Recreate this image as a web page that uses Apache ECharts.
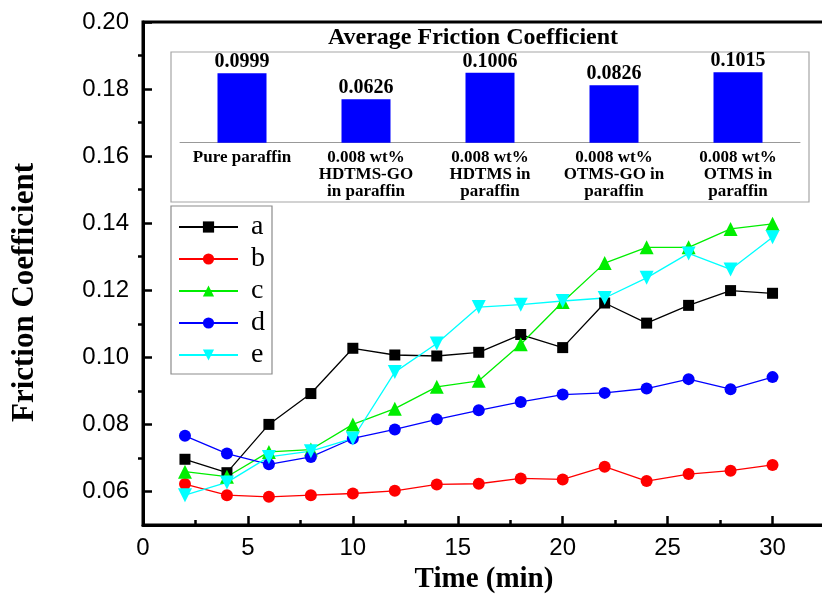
<!DOCTYPE html>
<html>
<head>
<meta charset="utf-8">
<title>Friction Coefficient</title>
<script src="https://cdn.jsdelivr.net/npm/echarts@6.0.0/dist/echarts.min.js"></script>
<style>
    html, body { margin: 0; padding: 0; background: #fff; }
    #chart { width: 822px; height: 598px; }
</style>
</head>
<body>
<div id="chart"></div>
<script>
    // 主图数据
    const times = [2, 4, 6, 8, 10, 12, 14, 16, 18, 20, 22, 24, 26, 28, 30];
    const seriesA = [0.0696, 0.0656, 0.0800, 0.0892, 0.1027, 0.1007, 0.1004, 0.1015, 0.1068, 0.1029, 0.1162, 0.1102, 0.1155, 0.1199, 0.1191];
    const seriesB = [0.0622, 0.0589, 0.0584, 0.0589, 0.0594, 0.0602, 0.0621, 0.0623, 0.0639, 0.0636, 0.0674, 0.0631, 0.0652, 0.0662, 0.0679];
    const seriesC = [0.0659, 0.0644, 0.0718, 0.0725, 0.0800, 0.0847, 0.0912, 0.0930, 0.1039, 0.1165, 0.1281, 0.1328, 0.1328, 0.1383, 0.1398];
    const seriesD = [0.0766, 0.0713, 0.0681, 0.0703, 0.0758, 0.0785, 0.0815, 0.0842, 0.0867, 0.0889, 0.0894, 0.0907, 0.0935, 0.0905, 0.0941];
    const seriesE = [0.0589, 0.0627, 0.0703, 0.0720, 0.0758, 0.0956, 0.1041, 0.1150, 0.1157, 0.1168, 0.1177, 0.1237, 0.1310, 0.1262, 0.1358];

    // 插图数据
    const avgLabels = [
        'Pure paraffin',
        '0.008 wt%\nHDTMS-GO\nin paraffin',
        '0.008 wt%\nHDTMS in\nparaffin',
        '0.008 wt%\nOTMS-GO in\nparaffin',
        '0.008 wt%\nOTMS in\nparaffin'
    ];
    const avgValues = [0.0999, 0.0626, 0.1006, 0.0826, 0.1015];

    const serif = '"Liberation Serif", "Times New Roman", serif';
    const sans = '"Liberation Sans", Arial, sans-serif';

    const pairs = (ys) => times.map((t, i) => [t, ys[i]]);

    const lineSeries = (name, ys, color, symbol, size, rotate) => ({
        name: name,
        type: 'line',
        xAxisIndex: 0,
        yAxisIndex: 0,
        data: pairs(ys),
        symbol: symbol,
        symbolSize: size,
        symbolRotate: rotate || 0,
        showAllSymbol: true,
        itemStyle: { color: color },
        lineStyle: { color: color, width: 1.3 },
        emphasis: { disabled: true }
    });

    const myChart = echarts.init(document.getElementById('chart'));

    const option = {
        animation: false,
        backgroundColor: '#fff',
        title: {
            text: 'Average Friction Coefficient',
            left: 328,
            top: 26,
            padding: 0,
            textStyle: { fontFamily: serif, fontWeight: 'bold', fontSize: 24, color: '#000' }
        },
        graphic: [{
            type: 'rect',
            z: 0,
            shape: { x: 171, y: 52, width: 638, height: 150 },
            style: { fill: '#fff', stroke: '#a6a6a6', lineWidth: 1.2 }
        }],
        legend: {
            orient: 'vertical',
            left: 171,
            top: 206,
            padding: [7, 7, 5, 7],
            itemWidth: 59,
            itemHeight: 14,
            itemGap: 4,
            borderColor: '#8c8c8c',
            borderWidth: 1.2,
            backgroundColor: '#fff',
            data: ['a', 'b', 'c', 'd', 'e'],
            textStyle: { fontFamily: serif, fontSize: 28, lineHeight: 28, color: '#000', padding: [0, 0, 0, 8] }
        },
        grid: [{
            left: 143,
            top: 22,
            width: 682,
            bottom: 73,
            outerBoundsMode: 'none',
            show: true,
            borderColor: '#000',
            borderWidth: 3,
            backgroundColor: 'transparent'
        }, {
            left: 180,
            top: 59.3,
            width: 620,
            height: 83.4,
            outerBoundsMode: 'none'
        }],
        xAxis: [{
            type: 'value',
            gridIndex: 0,
            min: 0,
            max: 32.5,
            interval: 5,
            name: 'Time (min)',
            nameLocation: 'middle',
            nameGap: 33,
            nameTextStyle: { fontFamily: serif, fontWeight: 'bold', fontSize: 29, color: '#000' },
            axisLine: { lineStyle: { color: '#000', width: 3 } },
            axisTick: { inside: true, length: 9, lineStyle: { color: '#000', width: 2.5 } },
            minorTick: { show: true, splitNumber: 2, length: 5, lineStyle: { color: '#000', width: 2.5 } },
            axisLabel: { margin: 11, fontFamily: sans, fontSize: 24, color: '#000', showMaxLabel: false },
            splitLine: { show: false }
        }, {
            type: 'category',
            gridIndex: 1,
            data: avgLabels,
            axisLine: { lineStyle: { color: '#999', width: 1 } },
            axisTick: { length: 4, lineStyle: { color: '#999' } },
            axisLabel: {
                interval: 0,
                margin: 7,
                fontFamily: serif,
                fontWeight: 'bold',
                fontSize: 17,
                lineHeight: 16.7,
                color: '#000'
            }
        }],
        yAxis: [{
            type: 'value',
            gridIndex: 0,
            min: 0.05,
            max: 0.20,
            splitNumber: 7,
            name: 'Friction Coefficient',
            nameLocation: 'middle',
            nameGap: 103,
            nameTextStyle: { fontFamily: serif, fontWeight: 'bold', fontSize: 31, color: '#000', padding: [0, 38, 0, 0] },
            axisLine: { lineStyle: { color: '#000', width: 3 } },
            axisTick: { inside: true, length: 9, lineStyle: { color: '#000', width: 2.5 } },
            axisLabel: {
                margin: 14,
                fontFamily: sans,
                fontSize: 24,
                color: '#000',
                showMinLabel: false,
                formatter: (v) => v.toFixed(2)
            },
            splitLine: { show: false }
        }, {
            type: 'value',
            gridIndex: 1,
            min: 0,
            max: 0.12,
            show: false
        }, {
            // 外侧的小刻度
            type: 'value',
            gridIndex: 0,
            position: 'left',
            min: 0.05,
            max: 0.20,
            splitNumber: 7,
            axisLine: { show: false },
            axisTick: { show: false, inside: false },
            minorTick: { show: true, splitNumber: 2, length: 5, lineStyle: { color: '#000', width: 2.5 } },
            axisLabel: { show: false },
            splitLine: { show: false }
        }],
        series: [
            lineSeries('a', seriesA, '#000000', 'rect', 11),
            lineSeries('b', seriesB, '#ff0000', 'circle', 12),
            lineSeries('c', seriesC, '#00ee00', 'triangle', 14),
            lineSeries('d', seriesD, '#0000ff', 'circle', 12),
            lineSeries('e', seriesE, '#00ffff', 'triangle', 14, 180),
            {
                name: 'Average',
                type: 'bar',
                xAxisIndex: 1,
                yAxisIndex: 1,
                data: avgValues,
                barWidth: 49,
                itemStyle: { color: '#0000ff' },
                label: {
                    show: true,
                    position: 'top',
                    distance: 1,
                    fontFamily: serif,
                    fontWeight: 'bold',
                    fontSize: 20,
                    color: '#000',
                    formatter: (p) => p.value.toFixed(4)
                },
                emphasis: { disabled: true }
            }
        ]
    };

    myChart.setOption(option);
</script>
</body>
</html>
